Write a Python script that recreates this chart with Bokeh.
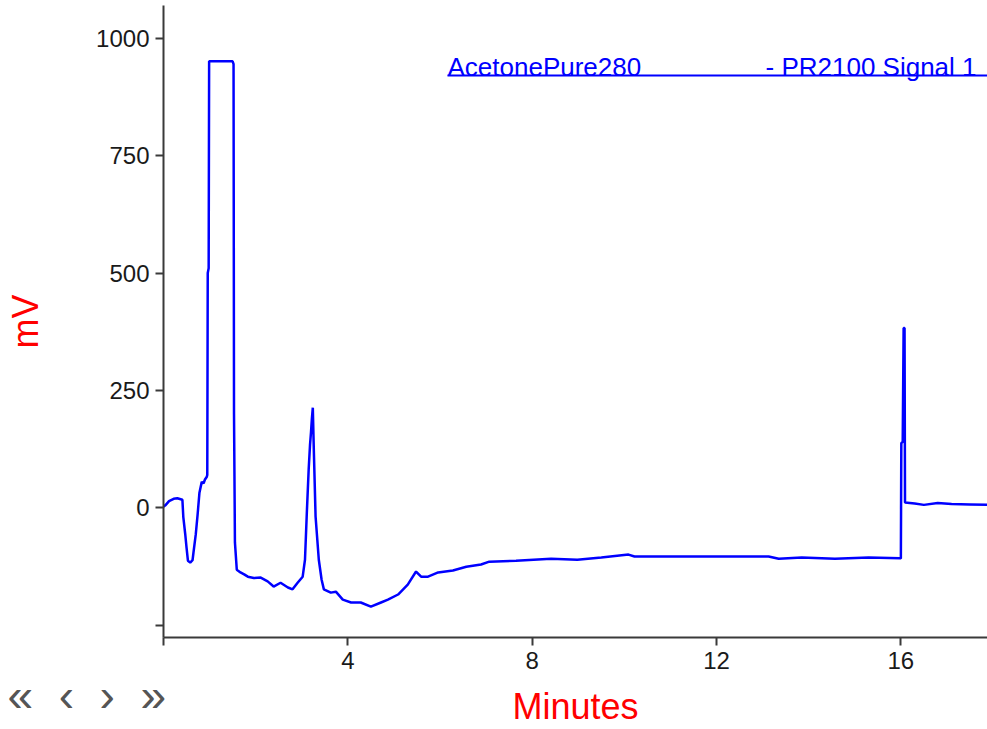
from bokeh.plotting import figure
from bokeh.models import Range1d, FixedTicker, Label, Arrow, LinearAxis
from bokeh.embed import file_html
from bokeh.resources import INLINE

# ---- data ----
time_min = [0.00, 0.04, 0.12, 0.22, 0.30, 0.41, 0.43, 0.47, 0.50, 0.53,
            0.58, 0.63, 0.65, 0.70, 0.74, 0.78, 0.83, 0.87, 0.90, 0.94,
            0.95, 0.96, 0.98, 0.99, 1.50, 1.52, 1.53, 1.55, 1.59, 1.67,
            1.75, 1.83, 1.96, 2.11, 2.26, 2.39, 2.54, 2.70, 2.80, 2.91,
            3.02, 3.07, 3.11, 3.15, 3.18, 3.20, 3.22, 3.24, 3.26, 3.30,
            3.37, 3.43, 3.48, 3.63, 3.74, 3.89, 4.07, 4.28, 4.50, 4.72,
            4.87, 5.09, 5.30, 5.48, 5.59, 5.74, 5.96, 6.28, 6.57, 6.89,
            7.07, 7.65, 8.41, 8.98, 9.50, 10.09, 10.22, 10.96, 12.04, 13.13,
            13.35, 13.85, 14.57, 15.30, 15.98, 16.00, 16.01, 16.04, 16.06, 16.08,
            16.09, 16.30, 16.50, 16.80, 17.10, 17.50, 17.88]
signal_mv = [2, 5, 14, 19, 20, 17, -20, -55, -85, -113,
             -117, -112, -96, -57, -15, 32, 55, 52, 60, 66,
             70, 500, 510, 951, 951, 945, 200, -74, -132, -138,
             -142, -147, -150, -149, -157, -168, -160, -170, -174, -160,
             -147, -111, -11, 81, 135, 160, 190, 213, 130, -19,
             -111, -153, -174, -181, -179, -196, -202, -202, -211, -202,
             -196, -185, -164, -136, -147, -147, -138, -134, -126, -121,
             -115, -113, -109, -111, -106, -100, -104, -104, -104, -104,
             -109, -106, -109, -106, -108, -108, 138, 140, 383, 383,
             11, 9, 6, 10, 8, 7, 6]
x_ticks = [0, 4, 8, 12, 16]
y_ticks = [-250, 0, 250, 500, 750, 1000]
x_tick_overrides = {0: ""}
y_tick_overrides = {-250: ""}
sample_name = "AcetonePure280"
detector_name = "- PR2100 Signal 1"
x_title = "Minutes"
y_title = "mV"
nav_text = "\u00ab\u00a0\u00a0\u2039\u00a0\u00a0\u203a\u00a0\u00a0\u00bb"

# ---- layout constants ----
FRAME_L, FRAME_B = 163, 638
X_MAX, Y_MIN, Y_MAX = 17.88, -276.6, 1070
AXIS_COL = "#3a3a3a"
FONT = "Liberation Sans"
NAV_PAD = "\u00a0" * 12   # keeps the centred navigation row left of the frame

p = figure(width=987, height=729, output_backend="svg", toolbar_location=None,
           x_range=Range1d(0, X_MAX), y_range=Range1d(Y_MIN, Y_MAX),
           min_border_left=FRAME_L, min_border_right=0,
           min_border_top=5, min_border_bottom=729 - FRAME_B)
p.outline_line_color = None
p.grid.visible = False
p.background_fill_color = "white"
p.border_fill_color = "white"

p.line(time_min, signal_mv, line_color="#0000ff", line_width=2.5)

for ax, ticks, ovr in ((p.xaxis[0], x_ticks, x_tick_overrides),
                       (p.yaxis[0], y_ticks, y_tick_overrides)):
    ax.ticker = FixedTicker(ticks=ticks)
    ax.major_label_overrides = ovr
    ax.minor_tick_line_color = None
    ax.major_tick_in = 0
    ax.major_tick_out = 8
    ax.axis_line_color = AXIS_COL
    ax.axis_line_width = 2
    ax.major_tick_line_color = AXIS_COL
    ax.major_tick_line_width = 2
    ax.major_label_text_font = FONT
    ax.major_label_text_font_size = "24px"
    ax.major_label_text_color = "#1a1a1a"
    ax.axis_label_text_font = FONT
    ax.axis_label_text_font_size = "36px"
    ax.axis_label_text_color = "#ff0000"
    ax.axis_label_text_font_style = "normal"

p.xaxis.major_label_standoff = 6
p.yaxis.axis_label = y_title
p.yaxis.major_label_standoff = 6
p.yaxis.axis_label_standoff = 47

# second bottom axis: navigation row (tick label) + "Minutes" title on the same row
p.extra_x_ranges = {"nav": Range1d(-1e-6, 1)}
nav_axis = LinearAxis(x_range_name="nav", ticker=FixedTicker(ticks=[0]),
                      major_label_overrides={0: nav_text + NAV_PAD},
                      axis_line_color=None, major_tick_line_color=None,
                      minor_tick_line_color=None, major_tick_in=0, major_tick_out=0,
                      major_label_standoff=-3,
                      major_label_text_font=FONT, major_label_text_font_size="46px",
                      major_label_text_color="#555555",
                      axis_label=x_title, axis_label_standoff=-38,
                      axis_label_text_font=FONT, axis_label_text_font_size="36px",
                      axis_label_text_color="#ff0000", axis_label_text_font_style="normal")
p.add_layout(nav_axis, "below")

# legend-like header (text + underline)
p.add_layout(Label(x=447 - FRAME_L, y=FRAME_B - 67, x_units="screen", y_units="screen",
                   text=sample_name, text_font=FONT, text_font_size="26px",
                   text_color="#0000ff", text_baseline="alphabetic"))
p.add_layout(Label(x=765 - FRAME_L, y=FRAME_B - 67, x_units="screen", y_units="screen",
                   text=detector_name, text_font=FONT, text_font_size="26px",
                   text_color="#0000ff", text_baseline="alphabetic"))
p.add_layout(Arrow(x_start=447 - FRAME_L, y_start=FRAME_B - 76,
                   x_end=987 - FRAME_L, y_end=FRAME_B - 76,
                   start_units="screen", end_units="screen",
                   start=None, end=None, line_color="#0000ff", line_width=2))

open("out.html", "w").write(file_html(p, INLINE))
